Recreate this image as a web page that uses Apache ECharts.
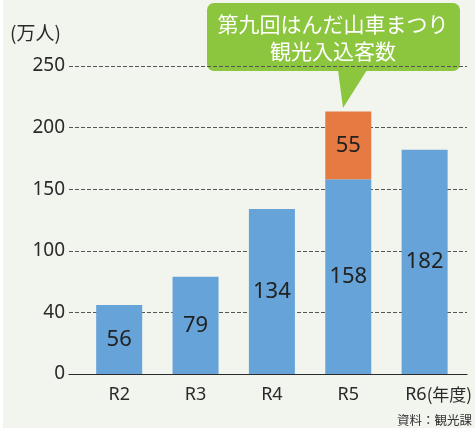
<!DOCTYPE html>
<html>
<head>
<meta charset="utf-8">
<script src="https://cdn.jsdelivr.net/npm/echarts@6/dist/echarts.min.js"></script>
<style>
  html, body { margin: 0; padding: 0; background: #fff; }
  #chart { position: absolute; left: 3px; top: 0; width: 472px; height: 428px; background: #f2f4ee; }
</style>
</head>
<body>
<div id="chart"></div>
<script>
// データ
const categories = ['R2', 'R3', 'R4', 'R5', 'R6'];
const visitors = [56, 79, 134, 158, 182];        // 観光入込客数
const festival = [null, null, null, 55, null];   // 第九回はんだ山車まつり
const yTickLabels = ['0', '40', '100', '150', '200', '250'];

const FONT = '"Noto Sans", "Noto Sans CJK JP", sans-serif';
const CJK = '"Noto Sans CJK JP", sans-serif';

const chart = echarts.init(document.getElementById('chart'));

const option = {
  animation: false,
  textStyle: { fontFamily: FONT },
  grid: [
    // 棒グラフ用
    { left: 78, right: 11, top: 66, bottom: 54 },
    // 目盛り・補助線用
    { left: 66, right: 8, top: 66, bottom: 54 }
  ],
  xAxis: [
    {
      type: 'category',
      gridIndex: 0,
      data: categories.map(c => c === 'R6'
        ? { value: c, textStyle: { padding: [0, 0, 0, 28] } }
        : c),
      axisLine: { show: false },
      axisTick: { show: false },
      axisLabel: {
        interval: 0,
        margin: 12,
        fontSize: 18,
        color: '#2a2a2a',
        fontFamily: FONT,
        formatter: v => v === 'R6' ? 'R6{n|(年度)}' : v,
        rich: { n: { fontSize: 17, color: '#2a2a2a', fontFamily: CJK } }
      }
    },
    {
      type: 'category',
      gridIndex: 1,
      data: categories,
      axisLine: { show: true, lineStyle: { color: '#2a2a2a', width: 1.2 } },
      axisTick: { show: false },
      axisLabel: { show: false }
    }
  ],
  yAxis: [
    {
      type: 'value',
      gridIndex: 0,
      min: 0,
      max: 250,
      interval: 50,
      axisLine: { show: false },
      axisTick: { show: false },
      axisLabel: { show: false },
      splitLine: { show: false }
    },
    {
      type: 'value',
      gridIndex: 1,
      min: 0,
      max: 250,
      interval: 50,
      axisLine: { show: false },
      axisTick: { show: false },
      axisLabel: {
        margin: 4,
        fontSize: 19,
        color: '#2a2a2a',
        fontFamily: FONT,
        formatter: v => yTickLabels[Math.round(v / 50)]
      },
      splitLine: {
        show: true,
        lineStyle: { color: '#555', type: [4, 2], width: 1 }
      }
    }
  ],
  series: [
    {
      name: '観光入込客数',
      type: 'bar',
      stack: 'total',
      xAxisIndex: 0,
      yAxisIndex: 0,
      barWidth: 46,
      data: visitors,
      itemStyle: { color: '#66a3d8' },
      label: {
        show: true,
        position: 'inside',
        fontSize: 22,
        color: '#222',
        fontFamily: FONT
      },
      z: 3
    },
    {
      name: '第九回はんだ山車まつり',
      type: 'bar',
      stack: 'total',
      xAxisIndex: 0,
      yAxisIndex: 0,
      barWidth: 46,
      data: festival,
      itemStyle: { color: '#e57b42' },
      label: {
        show: true,
        position: 'inside',
        fontSize: 22,
        color: '#222',
        fontFamily: FONT
      },
      z: 3
    }
  ],
  graphic: [
    {
      type: 'text',
      left: 7,
      top: 23,
      style: {
        text: '(万人)',
        fontSize: 19,
        fill: '#2a2a2a',
        fontFamily: CJK
      }
    },
    {
      type: 'text',
      right: 3,
      top: 414,
      style: {
        text: '資料：観光課',
        fontSize: 12.5,
        fill: '#333',
        fontFamily: CJK
      }
    },
    // 吹き出し
    {
      type: 'group',
      z: 10,
      children: [
        {
          type: 'rect',
          shape: { x: 204, y: 3, width: 253, height: 68, r: 7 },
          style: { fill: '#8cc63f' }
        },
        {
          type: 'polygon',
          shape: { points: [[335, 70], [364, 70], [340, 108]] },
          style: { fill: '#8cc63f' }
        },
        {
          type: 'text',
          x: 330,
          y: 11,
          style: {
            text: '第九回はんだ山車まつり\n観光入込客数',
            fontSize: 21,
            lineHeight: 27,
            fill: '#fff',
            align: 'center',
            verticalAlign: 'top',
            fontFamily: CJK
          }
        }
      ]
    }
  ]
};

chart.setOption(option);
</script>
</body>
</html>
